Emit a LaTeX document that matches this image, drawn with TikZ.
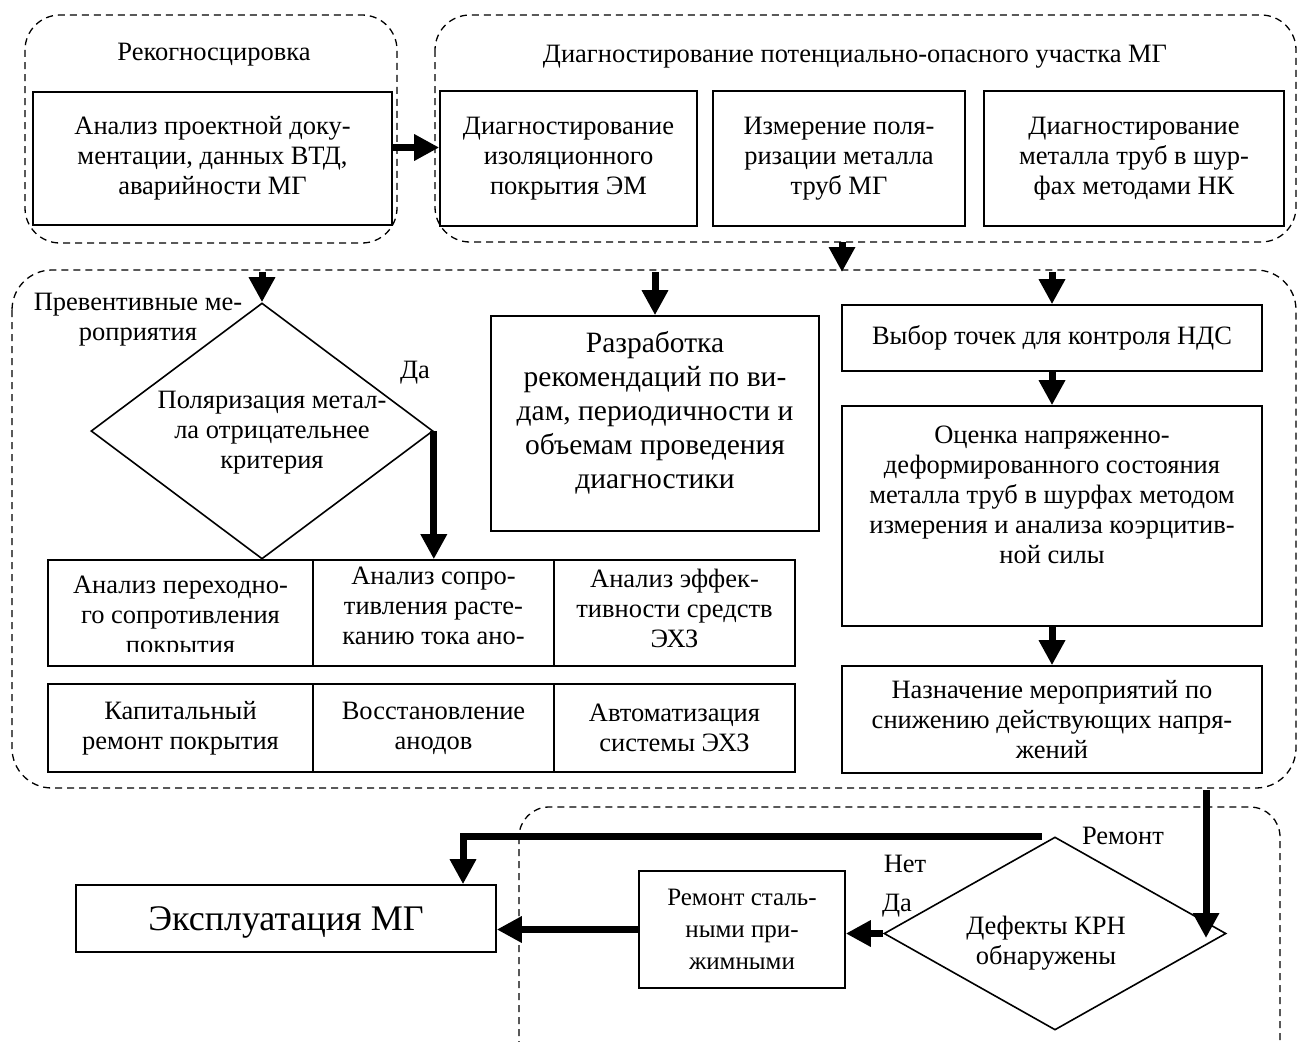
\documentclass[tikz,border=0pt]{standalone}
\usepackage{fontspec}
\setmainfont{Liberation Serif}
\usetikzlibrary{arrows.meta,shapes.geometric}
\newcommand\mainfs{\fontsize{26.5}{30}\selectfont}
\newcommand\bigfs{\fontsize{29.5}{34}\selectfont}
\newcommand\hugefs{\fontsize{36}{40}\selectfont}
\newcommand\remfs{\fontsize{25}{32}\selectfont}
\begin{document}
\begin{tikzpicture}[x=1pt,y=-1pt,
  region/.style={draw, line width=1.3pt, dash pattern=on 7pt off 5pt, rounded corners=#1},
  region/.default=35pt,
  box/.style={draw, line width=1.6pt, inner sep=0pt, align=center, font=\mainfs},
  txt/.style={align=center, inner sep=0pt, font=\mainfs},
  dia/.style={diamond, draw, line width=1.6pt, inner sep=0pt},
  arr/.style={line width=7pt, -{Triangle[length=25pt,width=25pt]}}]
\useasboundingbox (0,0) rectangle (1297,1041);
\clip (0,0) rectangle (1297,1041);

% regions
\draw[region] (25,15) rectangle (397,243);
\draw[region] (435,15) rectangle (1296,242);
\draw[region=40pt] (12,270) rectangle (1296,788);
\draw[region=30pt] (519,807) rectangle (1280,1075);

% top left
\node[txt] (t1) at (214,55) {Рекогносцировка};
\node[box, minimum width=359pt, minimum height=133pt] (b1) at (212.5,158.5)
  {Анализ проектной доку-\\ментации, данных ВТД,\\аварийности МГ};

% top right
\node[txt] (t2) at (855,57) {Диагностирование потенциально-опасного участка МГ};
\node[box, minimum width=257pt, minimum height=135pt] (b2) at (568.5,158.5)
  {Диагностирование\\изоляционного\\покрытия ЭМ};
\node[box, minimum width=252pt, minimum height=135pt] (b3) at (839,158.5)
  {Измерение поля-\\ризации металла\\труб МГ};
\node[box, minimum width=300pt, minimum height=135pt] (b4) at (1134,158.5)
  {Диагностирование\\металла труб в шур-\\фах методами НК};

\draw[arr] ([yshift=11pt]b1.east) -- ([yshift=11pt]b1.east -| b2.west);

\coordinate (c2s) at (842,242);
\coordinate (c3n) at (842,272);
\draw[arr] (c2s) -- (c3n);

% middle left
\node[dia, minimum width=342pt, minimum height=256pt] (d1) at (262,431) {};
\node[txt] (d1t) at (272,433) {Поляризация метал-\\ла отрицательнее\\критерия};
\node[txt] (prev) at (138,320) {Превентивные ме-\\роприятия};
\node[txt] (da1) at (415,373) {Да};
\draw[arr] (d1.north |- c3n) -- (d1.north);

\node[box, minimum width=265pt, minimum height=106pt] (c11) at (180.5,613) {};
\node[box, minimum width=241pt, minimum height=106pt] (c12) at (433.5,613) {};
\node[box, minimum width=241pt, minimum height=106pt] (c13) at (674.5,613) {};
\begin{scope}
  \clip (48,560) rectangle (554,651);
  \node[txt, anchor=north] (c11t) at (180.5,576) {Анализ переходно-\\го сопротивления\\покрытия};
  \node[txt, anchor=north] (c12t) at (433.5,567) {Анализ сопро-\\тивления расте-\\канию тока ано-};
\end{scope}
\node[txt, anchor=north] (c13t) at (674.5,569) {Анализ эффек-\\тивности средств\\ЭХЗ};

\draw[arr] (d1.east) -- (d1.east |- c12.north);

\node[box, minimum width=265pt, minimum height=88pt] (c21) at (180.5,728) {Капитальный\\ремонт покрытия};
\node[box, minimum width=241pt, minimum height=88pt] (c22) at (433.5,728) {Восстановление\\анодов};
\node[box, minimum width=241pt, minimum height=88pt] (c23) at (674.5,728) {Автоматизация\\системы ЭХЗ};

% middle centre
\node[box, minimum width=328pt, minimum height=215pt] (b5) at (655,423.5) {};
\node[txt, font=\bigfs] (b5t) at (655,413)
  {Разработка\\рекомендаций по ви-\\дам, периодичности и\\объемам проведения\\диагностики};
\draw[arr] (b5.north |- c3n) -- (b5.north);

% middle right
\node[box, minimum width=420pt, minimum height=66pt] (b6) at (1052,338) {Выбор точек для контроля НДС};
\draw[arr] (b6.north |- c3n) -- (b6.north);
\node[box, minimum width=420pt, minimum height=220pt] (b7) at (1052,516) {};
\node[txt] (b7t) at (1052,495)
  {Оценка напряженно-\\деформированного состояния\\металла труб в шурфах методом\\измерения и анализа коэрцитив-\\ной силы};
\draw[arr] (b6.south) -- (b7.north);
\node[box, minimum width=420pt, minimum height=107pt] (b8) at (1052,719.5)
  {Назначение мероприятий по\\снижению действующих напря-\\жений};
\draw[arr] (b7.south) -- (b8.north);

% bottom
\coordinate (c3s) at (1206,790);
\coordinate (d2in) at (1206,938);
\draw[arr] (c3s) -- (d2in);
\node[dia, minimum width=342pt, minimum height=193pt] (d2) at (1055,933.5) {};
\node[txt] (d2t) at (1046,943) {Дефекты КРН\\обнаружены};
\node[txt] (rem) at (1123,836) {Ремонт};
\node[txt] (net) at (905,864) {Нет};
\node[txt] (da2) at (897,906) {Да};
\node[box, minimum width=420pt, minimum height=67pt, font=\hugefs, text depth=0pt] (ex) at (286,918.5) {Эксплуатация МГ};
\node[box, minimum width=206pt, minimum height=117pt, font=\remfs] (rb) at (742,929.5)
  {Ремонт сталь-\\ными при-\\жимными};
\draw[arr] ([xshift=-13pt]d2.north) -| ([xshift=177pt]ex.north);
\draw[arr] (d2.west) -- (d2.west -| rb.east);
\draw[arr] (rb.west) -- (rb.west -| ex.east);
\end{tikzpicture}
\end{document}
